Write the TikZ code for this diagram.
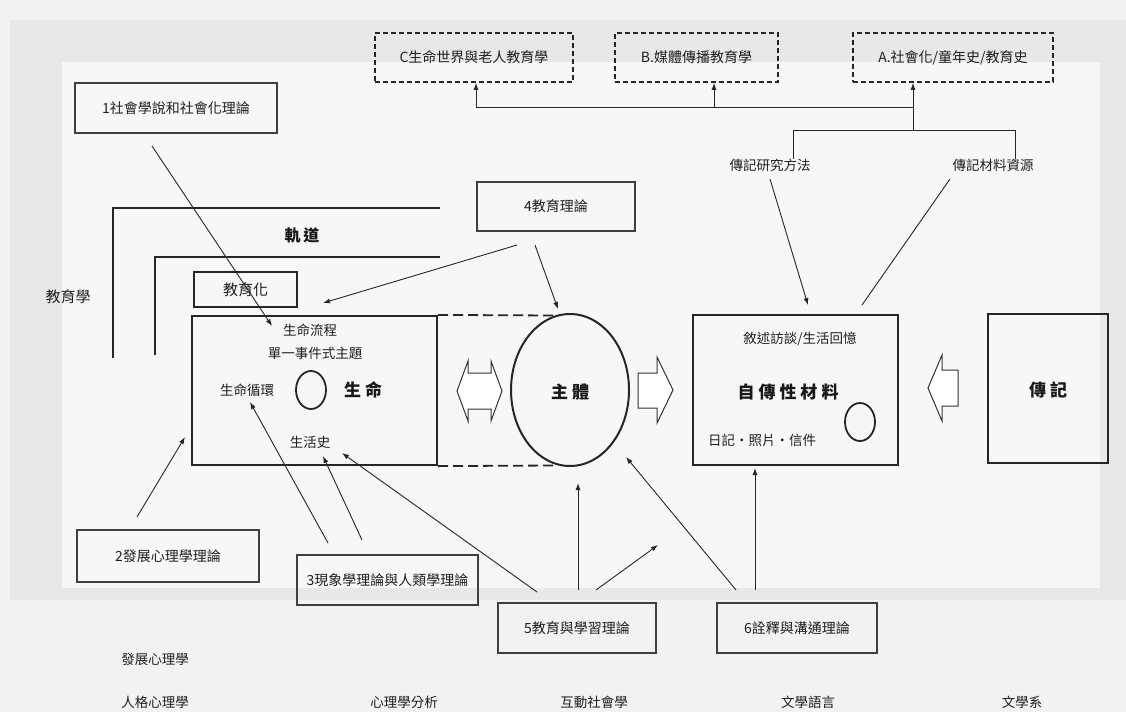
\documentclass[tikz,border=0pt]{standalone}
\usepackage{fontspec}
\setmainfont{Noto Sans CJK TC}
\usetikzlibrary{arrows.meta,shapes.geometric}
\begin{document}
\begin{tikzpicture}[x=1pt,y=-1pt,
  sm/.style={font=\fontsize{13.5}{14}\selectfont, text=black!88, inner sep=0pt},
  big/.style={font=\fontsize{17}{18}\selectfont\bfseries, text=black!90, inner sep=0pt},
  thbox/.style={draw=black!75, line width=1.3pt, inner sep=0pt, font=\fontsize{14}{14}\selectfont, text=black!88},
  dbox/.style={draw=black!85, line width=1.6pt, dash pattern=on 5pt off 3pt, inner sep=0pt, font=\fontsize{14}{14}\selectfont, text=black!88},
  mainbox/.style={draw=black!85, line width=2.2pt, inner sep=0pt},
  arr/.style={draw=black!85, line width=0.9pt, -{Latex[length=7pt,width=5pt]}},
  ln/.style={draw=black!85, line width=0.9pt},
  bracket/.style={draw=black!85, line width=2.4pt},
  hollow/.style={draw=black!80, line width=1pt, fill=white}
]
% background
\fill[black!5] (0,0) rectangle (1126,712);
\fill[black!9] (10,20) rectangle (1126,600);
\fill[black!3] (62,62) rectangle (1100,588);
\useasboundingbox (0,0) rectangle (1126,712);

% top dashed boxes
\node[dbox, minimum width=198, minimum height=49] (C) at (474,57.5) {C生命世界與老人教育學};
\node[dbox, minimum width=163, minimum height=49] (B) at (696.5,57.5) {B.媒體傳播教育學};
\node[dbox, minimum width=200, minimum height=49] (A) at (953,57.5) {A.社會化/童年史/教育史};
\coordinate (jc) at (476,107);
\coordinate (jb) at (714,107);
\coordinate (ja) at (913,107);
\coordinate (jm) at (913,130);
\coordinate (rl) at (793,130);
\coordinate (rr) at (1015,130);
\draw[ln] (jc) -- (ja);
\draw[arr] (jc) -- (jc |- C.south);
\draw[arr] (jb) -- (jb |- B.south);
\draw[arr] (jm) -- (jm |- A.south);
\draw[ln] (rl) -- (rr);

\node[sm] (lmeth) at (770,165) {傳記研究方法};
\node[sm] (lres) at (993,165) {傳記材料資源};
\draw[ln] (rl) -- (rl |- lmeth.north);
\draw[ln] (rr) -- (rr |- lres.north);

% theory boxes
\node[thbox, minimum width=202, minimum height=50] (t1) at (176,108) {1社會學說和社會化理論};
\node[thbox, minimum width=158, minimum height=49] (t4) at (556,206.5) {4教育理論};
\node[thbox, minimum width=182, minimum height=52] (t2) at (168,556) {2發展心理學理論};
\node[thbox, minimum width=181, minimum height=50] (t3) at (387.5,580) {3現象學理論與人類學理論};
\node[thbox, minimum width=158, minimum height=50] (t5) at (577,628) {5教育與學習理論};
\node[thbox, minimum width=160, minimum height=50] (t6) at (797,628) {6詮釋與溝通理論};

% education brackets
\node[sm, font=\fontsize{15}{15}\selectfont] (edu) at (68,297) {教育學};
\coordinate (o1) at (113,358);
\coordinate (o2) at (113,208);
\coordinate (o3) at (440,208);
\coordinate (i1) at (155,355);
\coordinate (i2) at (155,257);
\coordinate (i3) at (440,257);
\draw[bracket] (o1) -- (o2) -- (o3);
\draw[bracket] (i1) -- (i2) -- (i3);
\node[big, font=\fontsize{16}{16}\selectfont\bfseries] (track) at (302,235) {軌\hspace{3pt}道};
\node[draw=black!85, line width=1.8pt, minimum width=103, minimum height=35, inner sep=0pt, font=\fontsize{15}{15}\selectfont, text=black!88] (eduz) at (245.5,289.5) {教育化};

% life box
\node[mainbox, minimum width=245, minimum height=149] (life) at (314.5,390.5) {};
\node[sm] (flow) at (310,330) {生命流程};
\node[sm] (single) at (315,353) {單一事件式主題};
\node[sm] (cycle) at (247,390) {生命循環};
\node[draw=black!85, line width=1.8pt, ellipse, minimum width=30, minimum height=38, inner sep=0pt] (lc) at (311,390) {};
\node[big] (lifet) at (363,390) {生\hspace{4pt}命};
\node[sm] (hist) at (310,442) {生活史};

% subject
\draw[ln, line width=1.8pt, dash pattern=on 10pt off 5pt] (life.north east) -- (553,315.5);
\draw[ln, line width=1.8pt, dash pattern=on 10pt off 5pt] (life.south east) -- (553,465.5);
\node[draw=black!85, line width=2pt, ellipse, minimum width=118, minimum height=152, inner sep=0pt] (subj) at (570,390) {};
\node[big] (subjt) at (570,392) {主\hspace{4pt}體};

% hollow arrows
\draw[hollow] (457,391) -- (468,361) -- (468,373) -- (491,373) -- (491,361) -- (502,391) -- (491,421) -- (491,409) -- (468,409) -- (468,421) -- cycle;
\draw[hollow] (638,373) -- (657,373) -- (657,357) -- (673,390) -- (657,423) -- (657,408) -- (638,408) -- cycle;
\draw[hollow] (958,370) -- (942,370) -- (942,355) -- (928,388) -- (942,421) -- (942,406) -- (958,406) -- cycle;

% autobiographical materials
\node[mainbox, minimum width=205, minimum height=150] (auto) at (795.5,390) {};
\node[sm] (narr) at (800,339) {敘述訪談/生活回憶};
\node[big] (autot) at (788,392) {自\hspace{4pt}傳\hspace{4pt}性\hspace{4pt}材\hspace{4pt}料};
\node[sm] (diary) at (762,440) {日記・照片・信件};
\node[draw=black!85, line width=1.8pt, ellipse, minimum width=30, minimum height=38, inner sep=0pt] (ac) at (860,422) {};

% biography
\node[mainbox, minimum width=120, minimum height=149] (bio) at (1048,388.5) {};
\node[big] (biot) at (1048,390) {傳\hspace{4pt}記};

% arrows from theories
\coordinate (p1s) at (152,146);  \coordinate (p1e) at (272,326);
\coordinate (p2s) at (517,245);  \coordinate (p2e) at (323,303);
\coordinate (p3s) at (535,245);  \coordinate (p3e) at (558,309);
\coordinate (p4s) at (770,179);  \coordinate (p4e) at (808,305);
\coordinate (p5s) at (862,305);  \coordinate (p5e) at (950,179);
\coordinate (p6s) at (137,517);  \coordinate (p6e) at (185,437);
\coordinate (p7s) at (328,543);  \coordinate (p7e) at (250,402);
\coordinate (p8s) at (362,540);  \coordinate (p8e) at (323,456);
\coordinate (p9s) at (537,592);  \coordinate (p9e) at (342,453);
\coordinate (p10s) at (578,590); \coordinate (p10e) at (578,483);
\coordinate (p11s) at (596,590); \coordinate (p11e) at (658,545);
\coordinate (p12s) at (736,590); \coordinate (p12e) at (626,457);
\coordinate (p13s) at (755,590); \coordinate (p13e) at (755,468);
\draw[arr] (p1s) -- (p1e);
\draw[arr] (p2s) -- (p2e);
\draw[arr] (p3s) -- (p3e);
\draw[arr] (p4s) -- (p4e);
\draw[ln] (p5s) -- (p5e);
\draw[arr] (p6s) -- (p6e);
\draw[arr] (p7s) -- (p7e);
\draw[arr] (p8s) -- (p8e);
\draw[arr] (p9s) -- (p9e);
\draw[arr] (p10s) -- (p10e);
\draw[arr] (p11s) -- (p11e);
\draw[arr] (p12s) -- (p12e);
\draw[arr] (p13s) -- (p13e);

% bottom labels
\node[sm] (b1) at (155,659) {發展心理學};
\node[sm] (b2) at (155,702) {人格心理學};
\node[sm] (b3) at (404,702) {心理學分析};
\node[sm] (b4) at (594,702) {互動社會學};
\node[sm] (b5) at (808,702) {文學語言};
\node[sm] (b6) at (1022,702) {文學系};
\end{tikzpicture}
\end{document}
